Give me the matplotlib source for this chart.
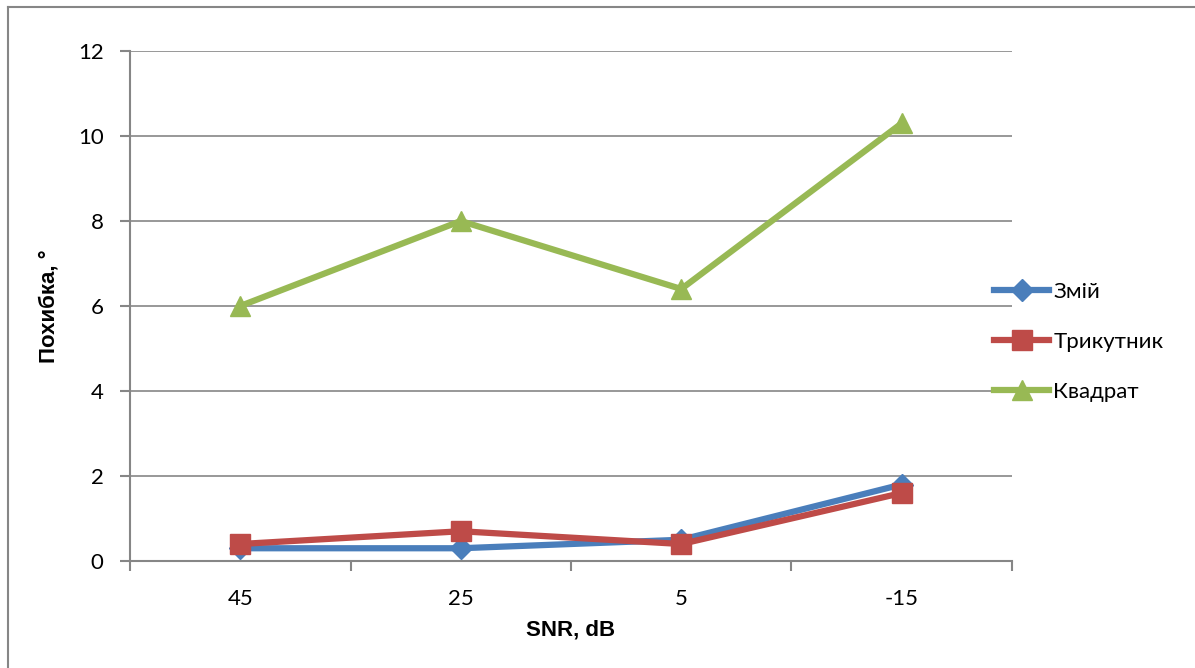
import matplotlib
matplotlib.use('Agg')
from matplotlib import pyplot as plt
from matplotlib.lines import Line2D

plt.rcParams['font.family'] = ['Lato', 'Open Sans', 'DejaVu Sans']

# дані
snr = ['45', '25', '5', '-15']
zmii = [0.3, 0.3, 0.5, 1.8]
trykutnyk = [0.4, 0.7, 0.4, 1.6]
kvadrat = [6.0, 8.0, 6.4, 10.3]
y_ticks = [0, 2, 4, 6, 8, 10, 12]

fig = plt.figure(figsize=(11.95, 6.68), dpi=100)
ax = fig.add_axes([130 / 1195, 1 - 561 / 668, 882 / 1195, 510 / 668])

x = list(range(len(snr)))
ax.plot(x, zmii, color='#4A7EBB', lw=4.5, marker='D', ms=11, label='Змій')
ax.plot(x, trykutnyk, color='#BE4B48', lw=4.5, marker='s', ms=14, label='Трикутник')
ax.plot(x, kvadrat, color='#98B954', lw=4.5, marker='^', ms=15, label='Квадрат')

ax.set_xlim(-0.5, 3.5)
ax.set_ylim(0, 12)
ax.set_yticks(y_ticks)
ax.set_xticks(x)
ax.set_xticklabels(snr)
ax.set_xticks([-0.5, 0.5, 1.5, 2.5, 3.5], minor=True)
ax.tick_params(axis='x', which='major', length=0, labelsize=16, pad=20)
ax.tick_params(axis='x', which='minor', length=7, width=1.5, color='#868686', direction='out')
ax.tick_params(axis='y', length=7, width=1.5, color='#868686', labelsize=16, pad=12)
ax.grid(axis='y', color='#868686', lw=1.2)
ax.set_axisbelow(True)
for s in ['top', 'right']:
    ax.spines[s].set_visible(False)
for s in ['left', 'bottom']:
    ax.spines[s].set_color('#868686')
    ax.spines[s].set_linewidth(1.5)

ax.set_xlabel('SNR, dB', fontsize=16, fontweight='bold', family=['Liberation Sans', 'DejaVu Sans'], labelpad=8)
ax.set_ylabel('Похибка, °', fontsize=16, fontweight='bold', family=['Liberation Sans', 'DejaVu Sans'], labelpad=13)

ax.legend(loc='center left', bbox_to_anchor=(0.97, 0.43), frameon=False, fontsize=16,
          handlelength=2.45, handletextpad=0.2, labelspacing=1.35, borderaxespad=0)

# рамка
fig.add_artist(Line2D([8 / 1195, 8 / 1195], [0, 1 - 7 / 668], color='#868686', lw=1.5))
fig.add_artist(Line2D([8 / 1195, 1], [1 - 7 / 668, 1 - 7 / 668], color='#868686', lw=1.5))

fig.savefig('out.png', dpi=100)
